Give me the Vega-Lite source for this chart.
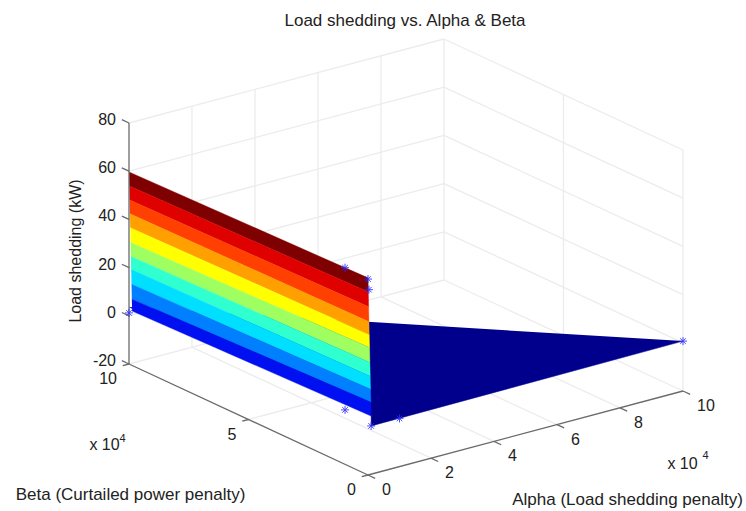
{"$schema":"https://vega.github.io/schema/vega-lite/v6.json","width":746,"height":511,"padding":0,"autosize":"none","background":"white","view":{"stroke":null},
"title":{"text":"Load shedding vs. Alpha & Beta","font":"Liberation Sans","fontSize":17,"fontWeight":"normal","color":"#222","anchor":"middle","dx":32,"dy":34},
"data":{"values":[
{"part":"grid","id":"b1","alpha":0,"beta":10,"load":-20},{"part":"grid","id":"b1","alpha":10,"beta":10,"load":-20},
{"part":"grid","id":"b2","alpha":0,"beta":10,"load":0},{"part":"grid","id":"b2","alpha":10,"beta":10,"load":0},
{"part":"grid","id":"b3","alpha":0,"beta":10,"load":20},{"part":"grid","id":"b3","alpha":10,"beta":10,"load":20},
{"part":"grid","id":"b4","alpha":0,"beta":10,"load":40},{"part":"grid","id":"b4","alpha":10,"beta":10,"load":40},
{"part":"grid","id":"b5","alpha":0,"beta":10,"load":60},{"part":"grid","id":"b5","alpha":10,"beta":10,"load":60},
{"part":"grid","id":"b6","alpha":0,"beta":10,"load":80},{"part":"grid","id":"b6","alpha":10,"beta":10,"load":80},
{"part":"grid","id":"v2","alpha":2,"beta":10,"load":-20},{"part":"grid","id":"v2","alpha":2,"beta":10,"load":80},
{"part":"grid","id":"v4","alpha":4,"beta":10,"load":-20},{"part":"grid","id":"v4","alpha":4,"beta":10,"load":80},
{"part":"grid","id":"v6","alpha":6,"beta":10,"load":-20},{"part":"grid","id":"v6","alpha":6,"beta":10,"load":80},
{"part":"grid","id":"v8","alpha":8,"beta":10,"load":-20},{"part":"grid","id":"v8","alpha":8,"beta":10,"load":80},
{"part":"grid","id":"v10","alpha":10,"beta":10,"load":-20},{"part":"grid","id":"v10","alpha":10,"beta":10,"load":80},
{"part":"grid","id":"a1","alpha":10,"beta":0,"load":-20},{"part":"grid","id":"a1","alpha":10,"beta":10,"load":-20},
{"part":"grid","id":"a2","alpha":10,"beta":0,"load":0},{"part":"grid","id":"a2","alpha":10,"beta":10,"load":0},
{"part":"grid","id":"a3","alpha":10,"beta":0,"load":20},{"part":"grid","id":"a3","alpha":10,"beta":10,"load":20},
{"part":"grid","id":"a4","alpha":10,"beta":0,"load":40},{"part":"grid","id":"a4","alpha":10,"beta":10,"load":40},
{"part":"grid","id":"a5","alpha":10,"beta":0,"load":60},{"part":"grid","id":"a5","alpha":10,"beta":10,"load":60},
{"part":"grid","id":"a6","alpha":10,"beta":0,"load":80},{"part":"grid","id":"a6","alpha":10,"beta":10,"load":80},
{"part":"grid","id":"w0","alpha":10,"beta":0,"load":-20},{"part":"grid","id":"w0","alpha":10,"beta":0,"load":80},
{"part":"grid","id":"w5","alpha":10,"beta":5,"load":-20},{"part":"grid","id":"w5","alpha":10,"beta":5,"load":80},
{"part":"grid","id":"f2","alpha":2,"beta":0,"load":-20},{"part":"grid","id":"f2","alpha":2,"beta":10,"load":-20},
{"part":"grid","id":"f4","alpha":4,"beta":0,"load":-20},{"part":"grid","id":"f4","alpha":4,"beta":10,"load":-20},
{"part":"grid","id":"f6","alpha":6,"beta":0,"load":-20},{"part":"grid","id":"f6","alpha":6,"beta":10,"load":-20},
{"part":"grid","id":"f8","alpha":8,"beta":0,"load":-20},{"part":"grid","id":"f8","alpha":8,"beta":10,"load":-20},
{"part":"grid","id":"f5","alpha":0,"beta":5,"load":-20},{"part":"grid","id":"f5","alpha":10,"beta":5,"load":-20},
{"part":"floor","id":"t","alpha":10,"beta":0,"load":0.7},{"part":"floor","id":"t","alpha":0.1,"beta":0,"load":0},{"part":"floor","id":"t","alpha":0.1,"beta":0,"load":4.5},{"part":"floor","id":"t","alpha":0,"beta":10,"load":3.6},
{"part":"wall","id":"b00","alpha":0,"beta":10,"load":59.7},{"part":"wall","id":"b00","alpha":0,"beta":0,"load":61.8},{"part":"wall","id":"b00","alpha":0.01,"beta":0,"load":55.9},{"part":"wall","id":"b00","alpha":0.01,"beta":10,"load":53.8},
{"part":"wall","id":"b01","alpha":0.01,"beta":10,"load":53.8},{"part":"wall","id":"b01","alpha":0.01,"beta":0,"load":55.9},{"part":"wall","id":"b01","alpha":0.02,"beta":0,"load":49.7},{"part":"wall","id":"b01","alpha":0.02,"beta":10,"load":48},
{"part":"wall","id":"b02","alpha":0.02,"beta":10,"load":48},{"part":"wall","id":"b02","alpha":0.02,"beta":0,"load":49.7},{"part":"wall","id":"b02","alpha":0.03,"beta":0,"load":43.5},{"part":"wall","id":"b02","alpha":0.03,"beta":10,"load":42.2},
{"part":"wall","id":"b03","alpha":0.03,"beta":10,"load":42.2},{"part":"wall","id":"b03","alpha":0.03,"beta":0,"load":43.5},{"part":"wall","id":"b03","alpha":0.04,"beta":0,"load":38.1},{"part":"wall","id":"b03","alpha":0.04,"beta":10,"load":36.4},
{"part":"wall","id":"b04","alpha":0.04,"beta":10,"load":36.4},{"part":"wall","id":"b04","alpha":0.04,"beta":0,"load":38.1},{"part":"wall","id":"b04","alpha":0.05,"beta":0,"load":32.7},{"part":"wall","id":"b04","alpha":0.05,"beta":10,"load":30.2},
{"part":"wall","id":"b05","alpha":0.05,"beta":10,"load":30.2},{"part":"wall","id":"b05","alpha":0.05,"beta":0,"load":32.7},{"part":"wall","id":"b05","alpha":0.06,"beta":0,"load":26.5},{"part":"wall","id":"b05","alpha":0.06,"beta":10,"load":24.4},
{"part":"wall","id":"b06","alpha":0.06,"beta":10,"load":24.4},{"part":"wall","id":"b06","alpha":0.06,"beta":0,"load":26.5},{"part":"wall","id":"b06","alpha":0.07,"beta":0,"load":20.7},{"part":"wall","id":"b06","alpha":0.07,"beta":10,"load":19},
{"part":"wall","id":"b07","alpha":0.07,"beta":10,"load":19},{"part":"wall","id":"b07","alpha":0.07,"beta":0,"load":20.7},{"part":"wall","id":"b07","alpha":0.08,"beta":0,"load":15.3},{"part":"wall","id":"b07","alpha":0.08,"beta":10,"load":12.8},
{"part":"wall","id":"b08","alpha":0.08,"beta":10,"load":12.8},{"part":"wall","id":"b08","alpha":0.08,"beta":0,"load":15.3},{"part":"wall","id":"b08","alpha":0.09,"beta":0,"load":9.9},{"part":"wall","id":"b08","alpha":0.09,"beta":10,"load":6.6},
{"part":"wall","id":"b09","alpha":0.09,"beta":10,"load":6.6},{"part":"wall","id":"b09","alpha":0.09,"beta":0,"load":9.9},{"part":"wall","id":"b09","alpha":0.1,"beta":0,"load":4.1},{"part":"wall","id":"b09","alpha":0.1,"beta":10,"load":1.6},
{"part":"axis","id":"za","alpha":0,"beta":10,"load":-20},{"part":"axis","id":"za","alpha":0,"beta":10,"load":80},
{"part":"axis","id":"ba","alpha":0,"beta":0,"load":-20},{"part":"axis","id":"ba","alpha":0,"beta":10,"load":-20},
{"part":"axis","id":"aa","alpha":0,"beta":0,"load":-20},{"part":"axis","id":"aa","alpha":10,"beta":0,"load":-20},
{"part":"axis","id":"z1","alpha":0,"beta":10,"load":-20},{"part":"axis","id":"z1","alpha":0,"beta":10.3,"load":-20},
{"part":"axis","id":"z2","alpha":0,"beta":10,"load":0},{"part":"axis","id":"z2","alpha":0,"beta":10.3,"load":0},
{"part":"axis","id":"z3","alpha":0,"beta":10,"load":20},{"part":"axis","id":"z3","alpha":0,"beta":10.3,"load":20},
{"part":"axis","id":"z4","alpha":0,"beta":10,"load":40},{"part":"axis","id":"z4","alpha":0,"beta":10.3,"load":40},
{"part":"axis","id":"z5","alpha":0,"beta":10,"load":60},{"part":"axis","id":"z5","alpha":0,"beta":10.3,"load":60},
{"part":"axis","id":"z6","alpha":0,"beta":10,"load":80},{"part":"axis","id":"z6","alpha":0,"beta":10.3,"load":80},
{"part":"axis","id":"bt0","alpha":0,"beta":0,"load":-20},{"part":"axis","id":"bt0","alpha":-0.2,"beta":0,"load":-20},
{"part":"axis","id":"bt5","alpha":0,"beta":5,"load":-20},{"part":"axis","id":"bt5","alpha":-0.2,"beta":5,"load":-20},
{"part":"axis","id":"bt10","alpha":0,"beta":10,"load":-20},{"part":"axis","id":"bt10","alpha":-0.2,"beta":10,"load":-20},
{"part":"axis","id":"at0","alpha":0,"beta":0,"load":-20},{"part":"axis","id":"at0","alpha":0,"beta":-0.3,"load":-20},
{"part":"axis","id":"at2","alpha":2,"beta":0,"load":-20},{"part":"axis","id":"at2","alpha":2,"beta":-0.3,"load":-20},
{"part":"axis","id":"at4","alpha":4,"beta":0,"load":-20},{"part":"axis","id":"at4","alpha":4,"beta":-0.3,"load":-20},
{"part":"axis","id":"at6","alpha":6,"beta":0,"load":-20},{"part":"axis","id":"at6","alpha":6,"beta":-0.3,"load":-20},
{"part":"axis","id":"at8","alpha":8,"beta":0,"load":-20},{"part":"axis","id":"at8","alpha":8,"beta":-0.3,"load":-20},
{"part":"axis","id":"at10","alpha":10,"beta":0,"load":-20},{"part":"axis","id":"at10","alpha":10,"beta":-0.3,"load":-20},
{"part":"star","alpha":0,"beta":10,"load":1.2},{"part":"star","alpha":0.03,"beta":1,"load":61.3},{"part":"star","alpha":0,"beta":0,"load":61.3},{"part":"star","alpha":0.03,"beta":0,"load":56.8},{"part":"star","alpha":0.03,"beta":1,"load":2.3},{"part":"star","alpha":0.1,"beta":0,"load":0},{"part":"star","alpha":1,"beta":0,"load":0},{"part":"star","alpha":10,"beta":0,"load":0.7},
{"part":"zl","label":"80","alpha":0,"beta":10,"load":80},{"part":"zl","label":"60","alpha":0,"beta":10,"load":60},{"part":"zl","label":"40","alpha":0,"beta":10,"load":40},{"part":"zl","label":"20","alpha":0,"beta":10,"load":20},{"part":"zl","label":"0","alpha":0,"beta":10,"load":0},{"part":"zl","label":"-20","alpha":0,"beta":10,"load":-20},
{"part":"bl","label":"10","alpha":0,"beta":10,"load":-20},{"part":"bl","label":"5","alpha":0,"beta":5,"load":-20},{"part":"bl","label":"0","alpha":0,"beta":0,"load":-20},
{"part":"al","label":"0","alpha":0,"beta":0,"load":-20},{"part":"al","label":"2","alpha":2,"beta":0,"load":-20},{"part":"al","label":"4","alpha":4,"beta":0,"load":-20},{"part":"al","label":"6","alpha":6,"beta":0,"load":-20},{"part":"al","label":"8","alpha":8,"beta":0,"load":-20},{"part":"al","label":"10","alpha":10,"beta":0,"load":-20},
{"part":"ztitle","label":"Load shedding (kW)","alpha":0,"beta":10,"load":30},
{"part":"btitle","label":"Beta (Curtailed power penalty)","alpha":0,"beta":5,"load":-20},
{"part":"atitle","label":"Alpha (Load shedding penalty)","alpha":5,"beta":0,"load":-20},
{"part":"bexp","label":"x 10","alpha":0,"beta":5,"load":-20},{"part":"bsup","label":"4","alpha":0,"beta":5,"load":-20},
{"part":"aexp","label":"x 10","alpha":5,"beta":0,"load":-20},{"part":"asup","label":"4","alpha":5,"beta":0,"load":-20}
]},
"transform":[{"window":[{"op":"row_number","as":"v"}]},{"calculate":"368+31.5*datum.alpha-23.9*datum.beta","as":"sx"},{"calculate":"426.8-8.4*datum.alpha-11.1*datum.beta-2.41*datum.load","as":"sy"}],
"encoding":{"x":{"field":"sx","type":"quantitative","axis":null,"scale":{"domain":[0,746],"range":[0,746],"nice":false,"zero":false}},"y":{"field":"sy","type":"quantitative","axis":null,"scale":{"domain":[0,511],"range":[0,511],"nice":false,"zero":false}}},
"layer":[
{"transform":[{"filter":"datum.part==='grid'"}],"mark":{"type":"line","stroke":"#ececec","strokeWidth":1.3},"encoding":{"detail":{"field":"id"},"order":{"field":"v","type":"quantitative"}}},
{"transform":[{"filter":"datum.part==='floor'"}],"mark":{"type":"line","fill":"#00008c","stroke":"#00008c","strokeWidth":0.5},"encoding":{"detail":{"field":"id"},"order":{"field":"v","type":"quantitative"}}},
{"transform":[{"filter":"datum.part==='wall'"}],"mark":{"type":"line","strokeWidth":0.4},"encoding":{"fill":{"field":"id","legend":null,"scale":{"domain":["b00","b01","b02","b03","b04","b05","b06","b07","b08","b09"],"range":["#7f0000","#df0000","#ff4000","#ff9f00","#ffff00","#9fff60","#30ffcf","#00dfff","#0080ff","#0010f0"]}},"stroke":{"field":"id","legend":null,"scale":{"domain":["b00","b01","b02","b03","b04","b05","b06","b07","b08","b09"],"range":["#7f0000","#df0000","#ff4000","#ff9f00","#ffff00","#9fff60","#30ffcf","#00dfff","#0080ff","#0010f0"]}},"order":{"field":"v","type":"quantitative"}}},
{"transform":[{"filter":"datum.part==='axis'"}],"mark":{"type":"line","stroke":"#6a6a6a","strokeWidth":1.3},"encoding":{"detail":{"field":"id"},"order":{"field":"v","type":"quantitative"}}},
{"transform":[{"filter":"datum.part==='star'"}],"mark":{"type":"point","shape":"M-1,0L1,0M0,-1L0,1M-0.7,-0.7L0.7,0.7M-0.7,0.7L0.7,-0.7","size":64,"stroke":"#2a2aff","strokeWidth":1,"filled":false,"opacity":0.85}},
{"transform":[{"filter":"datum.part==='zl'"}],"mark":{"type":"text","align":"right","baseline":"middle","dx":-13,"dy":-3,"font":"Liberation Sans","fontSize":16,"color":"#222"},"encoding":{"text":{"field":"label"}}},
{"transform":[{"filter":"datum.part==='bl'"}],"mark":{"type":"text","align":"right","baseline":"middle","dx":-12,"dy":15,"font":"Liberation Sans","fontSize":16,"color":"#222"},"encoding":{"text":{"field":"label"}}},
{"transform":[{"filter":"datum.part==='al'"}],"mark":{"type":"text","align":"left","baseline":"middle","dx":14,"dy":15,"font":"Liberation Sans","fontSize":16,"color":"#222"},"encoding":{"text":{"field":"label"}}},
{"transform":[{"filter":"datum.part==='ztitle'"}],"mark":{"type":"text","align":"center","baseline":"middle","angle":270,"dx":-7.5,"dy":-53,"font":"Liberation Sans","fontSize":16,"color":"#222"},"encoding":{"text":{"field":"label"}}},
{"transform":[{"filter":"datum.part==='btitle'"}],"mark":{"type":"text","align":"center","baseline":"middle","dx":-118,"dy":75,"font":"Liberation Sans","fontSize":17,"color":"#222"},"encoding":{"text":{"field":"label"}}},
{"transform":[{"filter":"datum.part==='atitle'"}],"mark":{"type":"text","align":"center","baseline":"middle","dx":102,"dy":67,"font":"Liberation Sans","fontSize":17,"color":"#222"},"encoding":{"text":{"field":"label"}}},
{"transform":[{"filter":"datum.part==='bexp'"}],"mark":{"type":"text","align":"center","baseline":"middle","dx":-144,"dy":25,"font":"Liberation Sans","fontSize":16,"color":"#222"},"encoding":{"text":{"field":"label"}}},
{"transform":[{"filter":"datum.part==='bsup'"}],"mark":{"type":"text","align":"center","baseline":"middle","dx":-126,"dy":19,"font":"Liberation Sans","fontSize":11,"color":"#222"},"encoding":{"text":{"field":"label"}}},
{"transform":[{"filter":"datum.part==='aexp'"}],"mark":{"type":"text","align":"center","baseline":"middle","dx":157,"dy":31,"font":"Liberation Sans","fontSize":16,"color":"#222"},"encoding":{"text":{"field":"label"}}},
{"transform":[{"filter":"datum.part==='asup'"}],"mark":{"type":"text","align":"center","baseline":"middle","dx":180,"dy":23,"font":"Liberation Sans","fontSize":11,"color":"#222"},"encoding":{"text":{"field":"label"}}}
]}
